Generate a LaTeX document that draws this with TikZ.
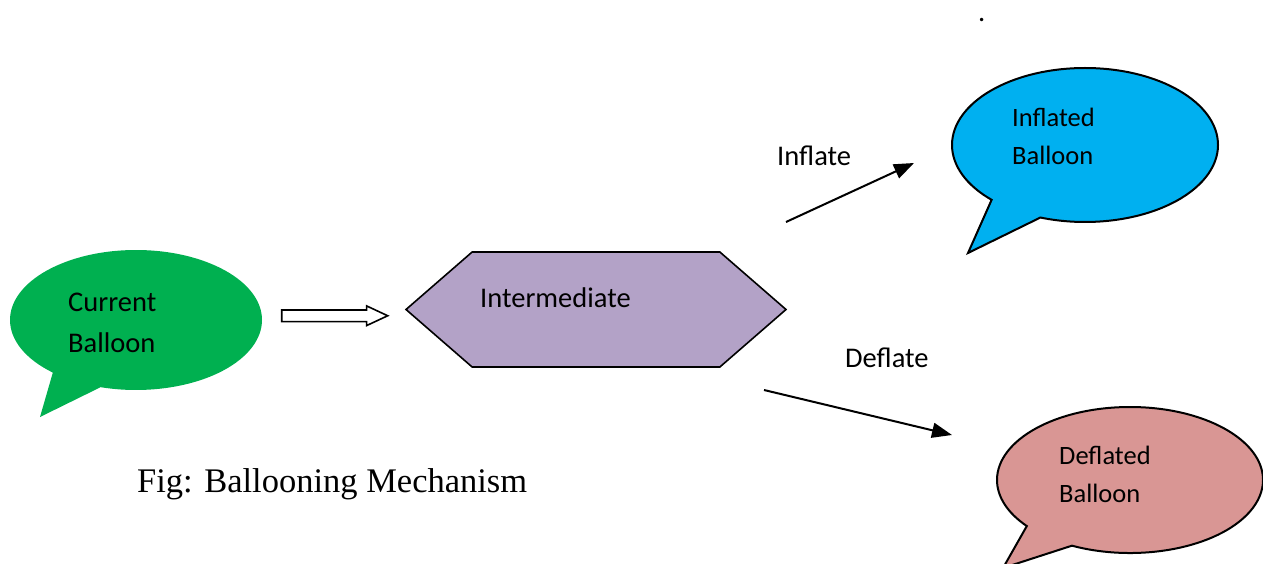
\documentclass[tikz,border=0pt]{standalone}
\usepackage{fontspec}
\setmainfont{Carlito}
\newfontfamily\capfont{Liberation Serif}
\usetikzlibrary{shapes.callouts,shapes.geometric,shapes.arrows,arrows.meta,calc}
\definecolor{curcol}{HTML}{00B050}
\definecolor{infcol}{HTML}{00B0F0}
\definecolor{defcol}{HTML}{D99694}
\definecolor{midcol}{HTML}{B3A2C7}

\begin{document}
\begin{tikzpicture}[
  x=1pt, y=-1pt,
  every node/.style={font=\fontsize{28.5}{41}\selectfont},
  balloon/.style={ellipse callout, inner sep=0pt, minimum width=266pt, minimum height=154pt, callout pointer arc=25},
  outl/.style={draw=black, line width=2pt},
  txt/.style={anchor=base west, align=left, inner sep=0pt},
  small/.style={font=\fontsize{26.5}{38}\selectfont},
  arr/.style={-{Triangle[length=20pt, width=15pt]}, line width=2pt}
]
\useasboundingbox (0,0) rectangle (1263,564);

% ---------------- balloons ----------------
\node[balloon, fill=curcol, minimum width=252pt, minimum height=140pt,
      callout absolute pointer={(40,417)}] (cur) at (136,320) {};
\node[balloon, outl, fill=infcol, callout absolute pointer={(968,253)}] (inf) at (1085,145) {};
\node[balloon, outl, fill=defcol, minimum height=146pt,
      callout absolute pointer={(1003,568)}] (def) at (1130,480) {};

% (base anchor sits on the last line)
\node[txt] (curtxt) at (68,352) {Current\\Balloon};
\node[txt, small] (inftxt) at (1012,165) {Inflated\\Balloon};
\node[txt, small] (deftxt) at (1059,502) {Deflated\\Balloon};

% ---------------- intermediate ----------------
\node[signal, signal to=west and east, signal pointer angle=82, outl, line width=1.6pt,
      fill=midcol, minimum width=380pt, minimum height=115pt, inner sep=0pt] (mid) at (596,309.5) {};
\node[txt] (midtxt) at (480,307) {Intermediate};

% hollow arrow current -> intermediate
\node[single arrow, draw, line width=1.6pt, fill=white, inner sep=5pt,
      minimum height=106pt, single arrow head extend=4pt, single arrow tip angle=50]
      (push) at ($(cur.east)!.5!(mid.west)+(-5,1)$) {};

% ---------------- inflate / deflate ----------------
\coordinate (infA) at (786,222);
\coordinate (infB) at (914,163);
\coordinate (defA) at (764,390);
\coordinate (defB) at (952,435);
\draw[arr] (infA) -- (infB);
\draw[arr] (defA) -- (defB);
\node[txt] (inflbl) at (777,166) {Inflate};
\node[txt] (deflbl) at (845,367) {Deflate};

\node[txt] (dot) at (978,22) {.};
\node[txt, font=\capfont\fontsize{34.5}{40}\selectfont] (cap) at (137,492) {Fig: Ballooning Mechanism};

\end{tikzpicture}
\end{document}
